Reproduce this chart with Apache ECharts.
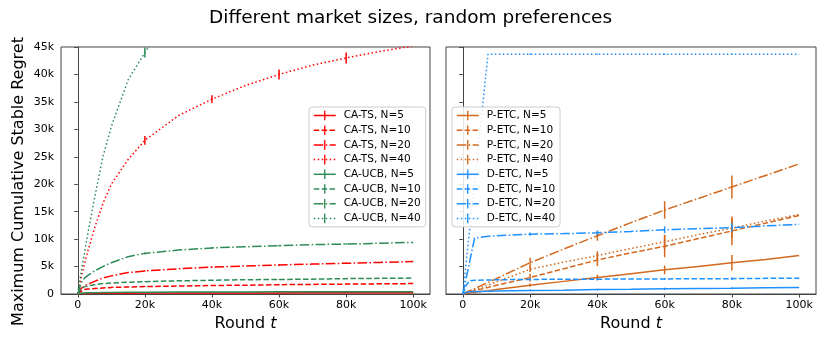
<!DOCTYPE html>
<html>
<head>
<meta charset="utf-8">
<title>Different market sizes, random preferences</title>
<script src="https://cdn.jsdelivr.net/npm/echarts@6.0.0/dist/echarts.min.js"></script>
<style>html,body{margin:0;padding:0;background:#fff}</style>
</head>
<body>
<div id="container" style="width:830px;height:346px"></div>
<script>
// rounds (x values) sampled for each panel
var xLeft = [0, 1000, 2000, 3000, 5000, 7500, 10000, 15000, 20000, 30000, 40000, 50000, 60000, 70000, 80000, 90000, 100000];
var xRight = [0, 1000, 2000, 3500, 7500, 10000, 20000, 30000, 40000, 50000, 60000, 70000, 80000, 90000, 100000];
var errX = [20000, 40000, 60000, 80000];
var tickX = [0, 20000, 40000, 60000, 80000, 100000];

// left panel
var caTS5 = [0, 80, 100, 110, 120, 130, 140, 150, 160, 170, 180, 190, 200, 210, 220, 230, 240];
var caTS10 = [0, 500, 800, 900, 1000, 1100, 1200, 1280, 1350, 1450, 1550, 1600, 1700, 1750, 1800, 1850, 1900];
var caTS20 = [0, 1000, 1500, 1800, 2300, 2900, 3300, 3900, 4200, 4600, 4900, 5100, 5300, 5450, 5600, 5750, 5900];
var caTS40 = [0, 3000, 5500, 7800, 12000, 16500, 20000, 24500, 28000, 32500, 35500, 38000, 40000, 41700, 43000, 44200, 45200];
var caUCB5 = [0, 150, 200, 220, 250, 270, 290, 310, 330, 350, 370, 380, 390, 400, 410, 420, 430];
var caUCB10 = [0, 1000, 1300, 1500, 1700, 1900, 2000, 2150, 2250, 2400, 2500, 2600, 2650, 2700, 2800, 2850, 2900];
var caUCB20 = [0, 2000, 2900, 3400, 4200, 5000, 5700, 6800, 7400, 8000, 8400, 8600, 8800, 9000, 9100, 9250, 9400];
var caUCB40 = [0, 4000, 7500, 11000, 17500, 25000, 30500, 39000, 44000, 53000, 60000, 66000, 71000, 75000, 79000, 82000, 85000];

var caTS5Err = [30, 30, 30, 30];
var caTS10Err = [60, 60, 70, 70];
var caTS20Err = [120, 120, 150, 150];
var caTS40Err = [800, 700, 900, 1000];
var caUCB5Err = [30, 30, 30, 30];
var caUCB10Err = [60, 60, 70, 70];
var caUCB20Err = [150, 150, 150, 150];
var caUCB40Err = [900, 1000, 1100, 1200];

// right panel
var pETC5 = [0, 100, 200, 300, 600, 800, 1600, 2300, 3000, 3700, 4400, 5000, 5700, 6300, 7000];
var pETC10 = [0, 200, 350, 600, 1200, 1600, 3000, 4600, 6200, 7500, 8700, 10100, 11500, 12900, 14300];
var pETC20 = [0, 300, 600, 1000, 2100, 2800, 5700, 8200, 10600, 13000, 15300, 17400, 19500, 21600, 23700];
var pETC40 = [0, 300, 500, 800, 1600, 2200, 4500, 5800, 7000, 8300, 9500, 10800, 12000, 13300, 14500];
var dETC5 = [0, 300, 400, 450, 500, 550, 650, 700, 800, 850, 950, 1000, 1050, 1150, 1200];
var dETC10 = [0, 1600, 2400, 2500, 2550, 2600, 2650, 2700, 2700, 2750, 2750, 2800, 2800, 2850, 2850];
var dETC20 = [0, 2900, 5800, 10200, 10500, 10600, 10900, 11000, 11150, 11400, 11700, 11900, 12100, 12400, 12700];
var dETC40 = [0, 5800, 11600, 20300, 43700, 43700, 43700, 43700, 43700, 43700, 43700, 43700, 43700, 43700, 43700];

var pETC5Err = [300, 500, 800, 1400];
var pETC10Err = [700, 1100, 2000, 2600];
var pETC20Err = [900, 900, 1600, 2100];
var pETC40Err = [500, 800, 1300, 1800];
var dETC5Err = [150, 150, 200, 200];
var dETC10Err = [150, 200, 200, 250];
var dETC20Err = [300, 400, 600, 800];
var dETC40Err = [100, 100, 100, 100];

var RED = '#ff0000', GREEN = '#2e8b57', ORANGE = '#d2691e', BLUE = '#1e90ff';
var SOLID = 'solid', DASHED = [5.5, 2.4], DASHDOT = [9.6, 2.4, 1.5, 2.4], DOTTED = [1.5, 2.5];

var leftList = [
    { name: 'CA-TS, N=5', color: RED, dash: SOLID, y: caTS5, err: caTS5Err },
    { name: 'CA-TS, N=10', color: RED, dash: DASHED, y: caTS10, err: caTS10Err },
    { name: 'CA-TS, N=20', color: RED, dash: DASHDOT, y: caTS20, err: caTS20Err },
    { name: 'CA-TS, N=40', color: RED, dash: DOTTED, y: caTS40, err: caTS40Err },
    { name: 'CA-UCB, N=5', color: GREEN, dash: SOLID, y: caUCB5, err: caUCB5Err },
    { name: 'CA-UCB, N=10', color: GREEN, dash: DASHED, y: caUCB10, err: caUCB10Err },
    { name: 'CA-UCB, N=20', color: GREEN, dash: DASHDOT, y: caUCB20, err: caUCB20Err },
    { name: 'CA-UCB, N=40', color: GREEN, dash: DOTTED, y: caUCB40, err: caUCB40Err }
];
var rightList = [
    { name: 'P-ETC, N=5', color: ORANGE, dash: SOLID, y: pETC5, err: pETC5Err },
    { name: 'P-ETC, N=10', color: ORANGE, dash: DASHED, y: pETC10, err: pETC10Err },
    { name: 'P-ETC, N=20', color: ORANGE, dash: DASHDOT, y: pETC20, err: pETC20Err },
    { name: 'P-ETC, N=40', color: ORANGE, dash: DOTTED, y: pETC40, err: pETC40Err },
    { name: 'D-ETC, N=5', color: BLUE, dash: SOLID, y: dETC5, err: dETC5Err },
    { name: 'D-ETC, N=10', color: BLUE, dash: DASHED, y: dETC10, err: dETC10Err },
    { name: 'D-ETC, N=20', color: BLUE, dash: DASHDOT, y: dETC20, err: dETC20Err },
    { name: 'D-ETC, N=40', color: BLUE, dash: DOTTED, y: dETC40, err: dETC40Err }
];

// vertical bar marker (square bounding box so the legend does not stretch it)
var BAR = 'path://M0,0h0.01v0.01h-0.01z M4.3,0h1.4v10h-1.4z M9.99,9.99h0.01v0.01h-0.01z';

var series = [];
function addSeries(list, xs, idx) {
    list.forEach(function(s) {
        series.push({
            name: s.name,
            type: 'line',
            xAxisIndex: idx,
            yAxisIndex: idx,
            data: xs.map(function(x, i) { return [x, s.y[i]]; }),
            showSymbol: false,
            symbol: BAR,
            symbolSize: 10,
            lineStyle: { color: s.color, width: 1.5, type: s.dash },
            itemStyle: { color: s.color },
            clip: true,
            animation: false
        });
        var bars = errX.map(function(x, i) {
            var v = s.y[xs.indexOf(x)];
            return [x, v - s.err[i], v + s.err[i]];
        });
        series.push({
            type: 'custom',
            xAxisIndex: idx,
            yAxisIndex: idx,
            data: bars,
            clip: true,
            animation: false,
            encode: { x: 0, y: [1, 2] },
            renderItem: function(params, api) {
                var p1 = api.coord([api.value(0), api.value(1)]);
                var p2 = api.coord([api.value(0), api.value(2)]);
                return {
                    type: 'line',
                    shape: { x1: p1[0], y1: p1[1], x2: p2[0], y2: p2[1] },
                    style: { stroke: s.color, lineWidth: 1.5 }
                };
            }
        });
    });
}
addSeries(leftList, xLeft, 0);
addSeries(rightList, xRight, 1);

function kFmt(v) { return v === 0 ? '0' : (v / 1000) + 'k'; }

function xAxis(idx) {
    return {
        type: 'value', gridIndex: idx, min: -5000, max: 105000,
        axisLine: { show: true, lineStyle: { color: '#444' } },
        axisTick: { show: true, length: 3.5, customValues: tickX, lineStyle: { color: '#444' } },
        axisLabel: { customValues: tickX, formatter: kFmt, fontSize: 11, color: '#000', margin: 6 },
        splitLine: { show: false },
        name: 'Round {i|t}', nameLocation: 'middle', nameGap: 21,
        nameTextStyle: { fontSize: 16, color: '#000', rich: { i: { fontStyle: 'italic', fontSize: 16, color: '#000' } } }
    };
}
function yAxis(idx) {
    var ax = {
        type: 'value', gridIndex: idx, min: 0, max: 45000, interval: 5000,
        axisLine: { show: true, lineStyle: { color: '#444' } },
        axisTick: { show: true, length: 3.5, lineStyle: { color: '#444' } },
        axisLabel: { show: idx === 0, formatter: kFmt, fontSize: 11, color: '#000', margin: 7 },
        splitLine: { show: false }
    };
    if (idx === 0) {
        ax.name = 'Maximum Cumulative Stable Regret';
        ax.nameLocation = 'middle';
        ax.nameGap = 34;
        ax.nameTextStyle = { fontSize: 16, color: '#000', padding: [0, 22, 0, 0] };
    }
    return ax;
}

function legend(list, left) {
    return {
        orient: 'vertical', left: left, top: 107,
        data: list.map(function(s) { return s.name; }),
        itemWidth: 22, itemHeight: 12, itemGap: 3.7,
        padding: [3, 5, 3, 4],
        backgroundColor: 'rgba(255,255,255,0.85)',
        borderColor: '#ccc', borderWidth: 1, borderRadius: 3,
        lineStyle: { width: 1.5 },
        textStyle: { fontSize: 10.5, color: '#000', padding: [0, 0, 0, 3] },
        selectedMode: false
    };
}

var chart = echarts.init(document.getElementById('container'));
var option = {
    backgroundColor: '#fff',
    textStyle: { fontFamily: 'DejaVu Sans' },
    animation: false,
    title: {
        text: 'Different market sizes, random preferences',
        left: 204, top: 4,
        textStyle: { fontSize: 18.5, fontWeight: 'normal', color: '#000' }
    },
    grid: [
        { left: 61, top: 47, width: 369, height: 247, show: true, borderColor: '#444', borderWidth: 1 },
        { left: 446, top: 47, width: 370, height: 247, show: true, borderColor: '#444', borderWidth: 1 }
    ],
    xAxis: [xAxis(0), xAxis(1)],
    yAxis: [yAxis(0), yAxis(1)],
    legend: [legend(leftList, 309), legend(rightList, 452)],
    series: series
};
chart.setOption(option);
</script>
</body>
</html>
